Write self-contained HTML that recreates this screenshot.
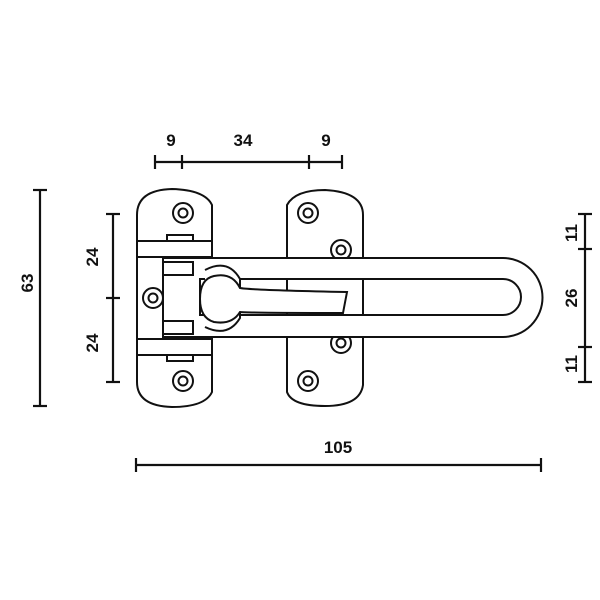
<!DOCTYPE html>
<html><head><style>body{margin:0;background:#fff}svg{display:block}</style></head><body>
<svg width="600" height="600" viewBox="0 0 600 600" xmlns="http://www.w3.org/2000/svg" font-family="Liberation Sans, sans-serif" font-weight="bold" font-size="17">
<rect width="600" height="600" fill="#fff"/>
<g stroke="#111" stroke-width="2.2" fill="none">
<line x1="40" y1="190" x2="40" y2="406"/><line x1="33" y1="190" x2="47" y2="190"/><line x1="33" y1="406" x2="47" y2="406"/>
<line x1="113" y1="214" x2="113" y2="382"/><line x1="106" y1="214" x2="120" y2="214"/><line x1="106" y1="298" x2="120" y2="298"/><line x1="106" y1="382" x2="120" y2="382"/>
<line x1="585" y1="214" x2="585" y2="382"/><line x1="578" y1="214" x2="592" y2="214"/><line x1="578" y1="249" x2="592" y2="249"/><line x1="578" y1="347" x2="592" y2="347"/><line x1="578" y1="382" x2="592" y2="382"/>
<line x1="155" y1="162" x2="342" y2="162"/><line x1="155" y1="155" x2="155" y2="169"/><line x1="182" y1="155" x2="182" y2="169"/><line x1="309" y1="155" x2="309" y2="169"/><line x1="342" y1="155" x2="342" y2="169"/>
<line x1="136" y1="465" x2="541" y2="465"/><line x1="136" y1="458" x2="136" y2="472"/><line x1="541" y1="458" x2="541" y2="472"/>
</g>
<g stroke="#111" stroke-width="2" fill="#fff">
<path d="M137,215 Q137,190 172,189 Q205,190 212,205 L212,392 Q205,407 172,407 Q137,406 137,382 Z"/>
<path d="M287,205 Q295,190 325,190 Q363,192 363,215 L363,385 Q360,406 325,406 Q292,406 287,392 Z"/>
<rect x="167" y="235" width="26" height="6"/>
<rect x="167" y="355" width="26" height="6"/>
<rect x="137" y="241" width="75" height="16"/>
<rect x="137" y="339" width="75" height="16"/>
<circle cx="183" cy="213" r="10"/><circle cx="153" cy="298" r="10"/><circle cx="183" cy="381" r="10"/>
<circle cx="308" cy="213" r="10"/><circle cx="341" cy="250" r="10"/><circle cx="341" cy="343" r="10"/><circle cx="308" cy="381" r="10"/>
</g>
<g stroke="#111" stroke-width="2" fill="none">
<circle cx="183" cy="213" r="4.5"/><circle cx="153" cy="298" r="4.5"/><circle cx="183" cy="381" r="4.5"/>
<circle cx="308" cy="213" r="4.5"/><circle cx="308" cy="381" r="4.5"/>
<circle cx="341" cy="250" r="4.5"/><circle cx="341" cy="343" r="4.5"/>
</g>
<!-- bolt loop -->
<path d="M163,258 L503,258 A39.5,39.5 0 0 1 503,337 L163,337 Z M200,279 L503,279 A18,18 0 0 1 503,315 L200,315 Z" fill="#fff" fill-rule="evenodd" stroke="#111" stroke-width="2"/>
<rect x="163" y="262" width="30" height="13" fill="#fff" stroke="#111" stroke-width="2"/>
<rect x="163" y="321" width="30" height="13" fill="#fff" stroke="#111" stroke-width="2"/>
<path d="M205,270 Q228,258 240,279 L240,318 Q228,338 205,327" fill="#fff" stroke="#111" stroke-width="2"/>
<!-- knob -->
<path d="M214,276 Q232,272 240,288 Q250,290 347,292 L343,313 Q250,313 240,312 Q232,325 214,322 Q200,318 200,299 Q200,279 214,276 Z" fill="#fff" stroke="#111" stroke-width="2"/>
<g fill="#111">
<text x="171" y="146" text-anchor="middle">9</text>
<text x="243" y="146" text-anchor="middle">34</text>
<text x="326" y="146" text-anchor="middle">9</text>
<text x="338" y="453" text-anchor="middle">105</text>
<text transform="translate(33,283) rotate(-90)" text-anchor="middle">63</text>
<text transform="translate(98,257) rotate(-90)" text-anchor="middle">24</text>
<text transform="translate(98,343) rotate(-90)" text-anchor="middle">24</text>
<text transform="translate(577,233) rotate(-90)" text-anchor="middle">11</text>
<text transform="translate(577,298) rotate(-90)" text-anchor="middle">26</text>
<text transform="translate(577,364) rotate(-90)" text-anchor="middle">11</text>
</g>
</svg>
</body></html>
